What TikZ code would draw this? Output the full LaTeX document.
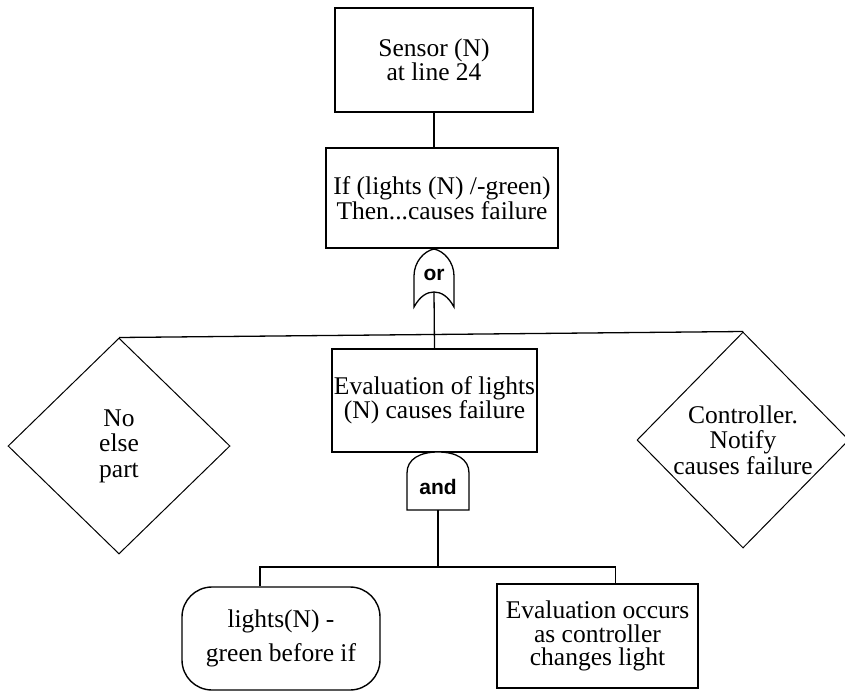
\documentclass[tikz,border=0pt]{standalone}
\usepackage{fontspec}
\setmainfont{Liberation Serif}
\newfontfamily\gatefont{Liberation Sans}
\usetikzlibrary{shapes.geometric}
\begin{document}
\begin{tikzpicture}[x=1pt,y=-1pt,
  box/.style={draw,line width=1.4pt,inner sep=0pt,align=center},
  dia/.style={draw,diamond,line width=1pt,inner sep=0pt},
  diatext/.style={align=center,inner sep=0pt,font=\fontsize{25.5}{25.5}\selectfont},
  conn/.style={line width=1.3pt},
  gate/.style={draw,line width=1.3pt,fill=white},
  gatelabel/.style={font=\gatefont\bfseries\fontsize{21}{21}\selectfont,inner sep=0pt}]
\useasboundingbox (0,0) rectangle (845,693);

\node[box,minimum width=198,minimum height=104,font=\fontsize{25.5}{21}\selectfont] (sensor) at (434,60) {Sensor (N)\\at line 24};
\node[box,minimum width=232,minimum height=100,font=\fontsize{25.5}{22}\selectfont] (ifbox) at (442,198) {If (lights (N) /-green)\\Then...causes failure};
\node[box,minimum width=205,minimum height=103,font=\fontsize{25.5}{24}\selectfont] (evalbox) at (434.5,400.5) {Evaluation of lights\\(N) causes failure};

\node[dia,minimum width=222,minimum height=216] (noelse) at (119,446) {};
\node[diatext] (noelsetext) at (noelse) {No\\else\\part};
\node[dia,minimum width=212,minimum height=216] (notify) at (743,440) {};
\node[diatext] (notifytext) at (notify) {Controller.\\Notify\\causes failure};

\node[box,rounded corners=30,minimum width=198,minimum height=103,font=\fontsize{25.5}{34}\selectfont] (lights) at (281,638.5) {lights(N) -\\green before if};
\node[box,minimum width=201,minimum height=104,font=\fontsize{25.5}{23.5}\selectfont] (occurs) at (597.5,636) {Evaluation occurs\\as controller\\changes light};

% sensor to if box
\draw[conn] (sensor.south) -- (sensor.south |- ifbox.north);

% OR gate
\draw[gate] (414,307) -- (414,276) .. controls (414,262) and (424,251) .. (434,249)
  .. controls (444,251) and (454,262) .. (454,276) -- (454,307)
  .. controls (448,296) and (441,292) .. (434,292)
  .. controls (427,292) and (420,296) .. (414,307) -- cycle;
\node[gatelabel] (orlabel) at (434,275) {or};
\coordinate (orout) at (434,292);
\draw[conn] (orout) -- (evalbox.north);
\draw[conn] (noelse.north) -- (notify.north);

% AND gate
\draw[gate] (407,510) -- (407,473) .. controls (407,459) and (420,452) .. (438,452)
  .. controls (456,452) and (469,459) .. (469,473) -- (469,510) -- cycle;
\node[gatelabel] (andlabel) at (438,487) {and};
\coordinate (andout) at (438,510);
\coordinate (split) at (438,567);
\draw[conn] (andout) -- (split);
\draw[conn] ([xshift=-21pt]lights.north) |- (split) -| ([xshift=18pt]occurs.north);
\end{tikzpicture}
\end{document}
